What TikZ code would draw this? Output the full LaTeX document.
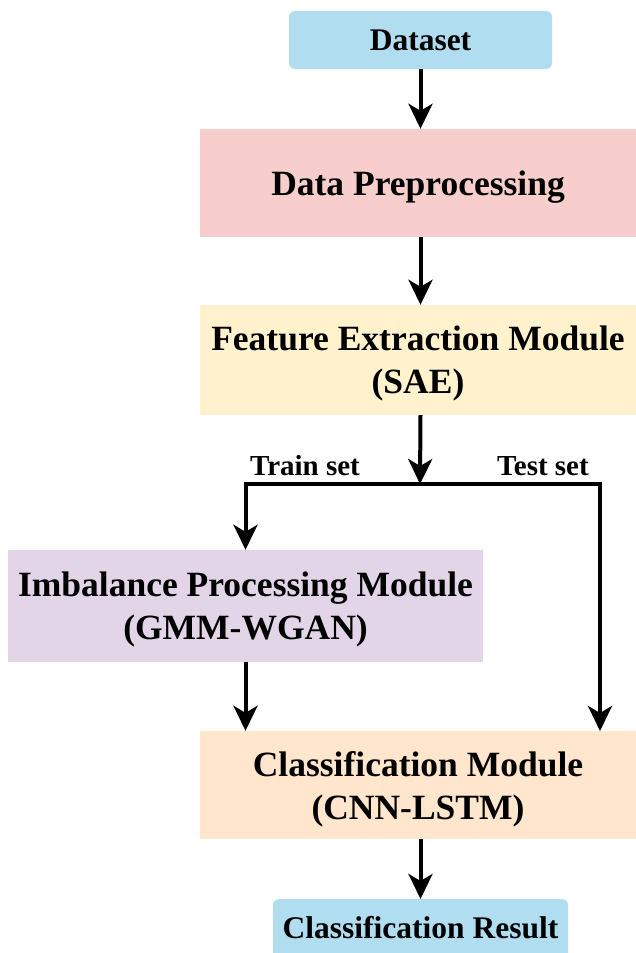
\documentclass[tikz,border=0pt]{standalone}
\usepackage{fontspec}
\setmainfont{Liberation Serif}
\usetikzlibrary{arrows.meta,positioning}

\definecolor{dsblue}{HTML}{B1DDF0}
\definecolor{prered}{HTML}{F8CECC}
\definecolor{feyellow}{HTML}{FFF2CC}
\definecolor{imbpurple}{HTML}{E1D5E7}
\definecolor{clsorange}{HTML}{FFE6CC}

% drop the depth of a line so the box centres on the letters
\newcommand{\nodepth}[1]{\raisebox{0pt}[\height][0pt]{#1}}

\tikzset{
  block/.style={draw=none, align=center, inner sep=0pt,
    font=\bfseries\fontsize{35.5}{43}\selectfont},
  endblock/.style={block, rounded corners=6pt,
    font=\bfseries\fontsize{31.5}{37}\selectfont},
  flow/.style={line width=4pt, -{Stealth[length=25pt,width=24pt,inset=7pt]}},
  setlabel/.style={anchor=base, inner sep=0pt,
    font=\bfseries\fontsize{29}{34}\selectfont}
}

\begin{document}
\begin{tikzpicture}[x=1pt, y=-1pt]
  \clip (0,0) rectangle (636,953);
  \useasboundingbox (0,0) rectangle (636,953);

  % boxes
  \node[endblock, fill=dsblue, minimum width=263pt, minimum height=58pt]
    (ds) at (420.5,40) {\nodepth{Dataset}};
  \node[block, fill=prered, minimum width=436pt, minimum height=108pt]
    (pre) at (418,183) {\nodepth{Data Preprocessing}};
  \node[block, fill=feyellow, minimum width=436pt, minimum height=110pt]
    (fe) at (418,360) {Feature Extraction Module\\\nodepth{(SAE)}};
  \node[block, fill=imbpurple, minimum width=475pt, minimum height=112pt]
    (imb) at (245.5,606) {Imbalance Processing Module\\\nodepth{(GMM-WGAN)}};
  \node[block, fill=clsorange, minimum width=436pt, minimum height=108pt]
    (cls) at (418,785) {Classification Module\\\nodepth{(CNN-LSTM)}};
  \node[endblock, fill=dsblue, minimum width=295pt, anchor=north,
        text height=39pt, text depth=30pt]
    (res) at (420.5,899) {Classification Result};

  % split point and the test-set line end
  \coordinate (split) at (420,484);
  \coordinate (testin) at (600,731);

  % connectors
  \draw[flow] (ds.south) -- (ds.south |- pre.north);
  \draw[flow] (ds.south |- pre.south) -- (ds.south |- fe.north);
  \draw[flow] (ds.south |- fe.south) -- (split);
  \draw[flow] (split) -| (imb.north);
  \draw[flow] (split) -| (testin);
  \draw[flow] (imb.south) -- (imb.south |- cls.north);
  \draw[flow] (res.north |- cls.south) -- (res.north);

  % branch labels
  \node[setlabel] (trainlbl) at (305,475) {Train set};
  \node[setlabel] (testlbl) at (543,475) {Test set};
\end{tikzpicture}
\end{document}
